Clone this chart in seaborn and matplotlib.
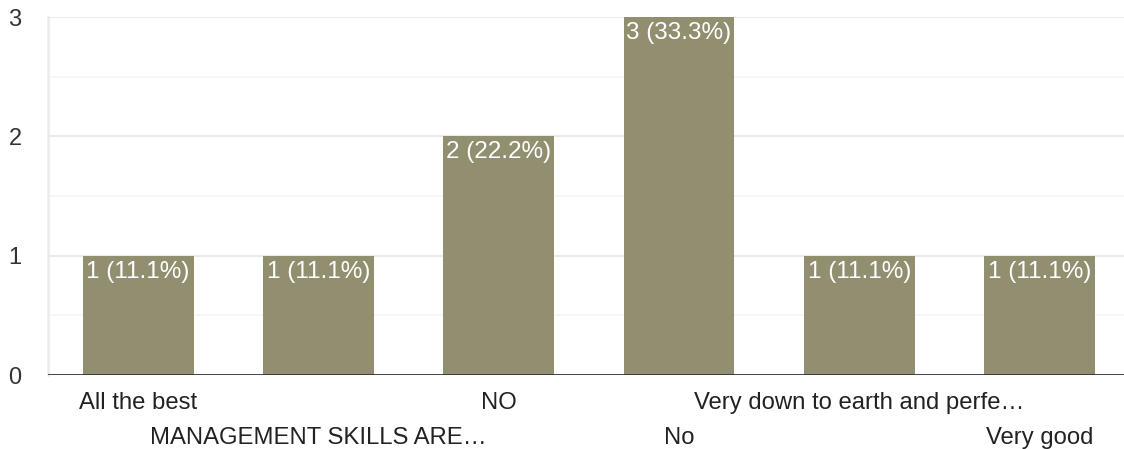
import matplotlib
matplotlib.use("Agg")
import matplotlib.pyplot as plt
import seaborn as sns
import pandas as pd

categories = ["All the best", "MANAGEMENT SKILLS ARE\u2026", "NO", "No",
              "Very down to earth and perfe\u2026", "Very good"]
counts = [1, 1, 2, 3, 1, 1]
percents = [11.1, 11.1, 22.2, 33.3, 11.1, 11.1]

sns.set_theme(style="white")
plt.rcParams['font.family'] = ['Arial', 'Liberation Sans', 'DejaVu Sans']

df = pd.DataFrame({"cat": categories, "count": counts})

fig = plt.figure(figsize=(11.24, 4.49), dpi=100)
ax = fig.add_axes([48/1124, (449-375)/449, 1 - 48/1124 + 0.005, (375-17)/449])

sns.barplot(data=df, x="cat", y="count", color="#918f6f", width=0.615,
            saturation=1, linewidth=0, ax=ax)
ax.set_xlim(-0.5, 5.5)
ax.set_ylim(0, 3)

for y in [0.5, 1.5, 2.5]:
    ax.axhline(y, color="#f5f5f5", lw=1.2, zorder=0)
for y in [1, 2, 3]:
    ax.axhline(y, color="#ebebeb", lw=1.5, zorder=0)
ax.axhline(0, color="#333333", lw=2, zorder=5)

for s in ["top", "right", "bottom"]:
    ax.spines[s].set_visible(False)
ax.spines["left"].set_color("#ebebeb")
ax.spines["left"].set_linewidth(1.8)

ax.set_yticks([0, 1, 2, 3])
ax.set_yticklabels(["0", "1", "2", "3"], fontsize=17, color="#333333")
ax.tick_params(axis="y", length=0, pad=19)

ax.set_xticks(range(len(categories)))
ax.set_xticklabels([])
ax.tick_params(axis="x", length=0)
for i, lab in enumerate(categories):
    yoff = -20.5 if i % 2 == 0 else -45.5
    ax.annotate(lab, xy=(i, 0), xytext=(0, yoff), textcoords="offset points",
                ha="center", va="center", fontsize=17.2, color="#222222")

for i, (c, p) in enumerate(zip(counts, percents)):
    ax.annotate(f"{c} ({p}%)", xy=(i, c), xytext=(0, -3.5), textcoords="offset points",
                ha="center", va="top", fontsize=17.5, color="white", zorder=6)

ax.set_xlabel("")
ax.set_ylabel("")
fig.savefig("out.png", dpi=100)
